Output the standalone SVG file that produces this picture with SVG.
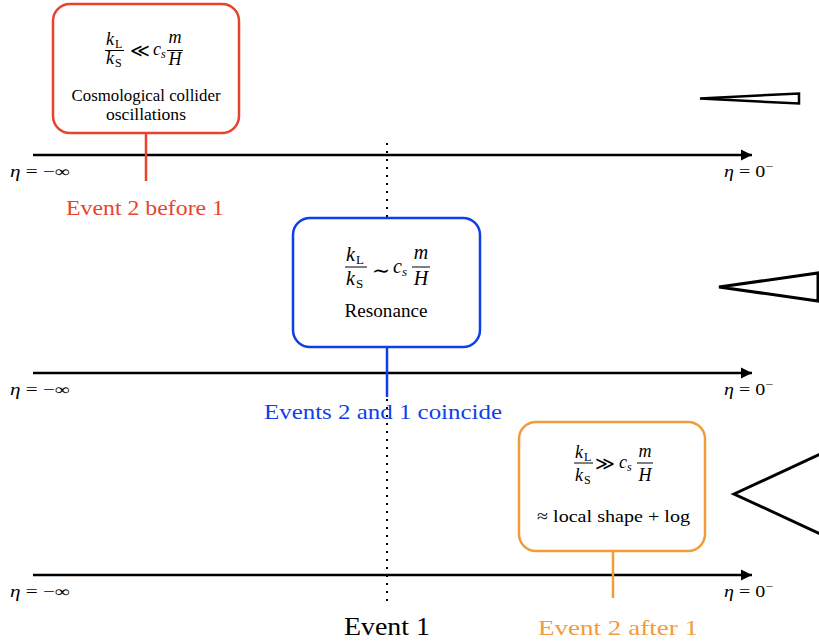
<svg xmlns="http://www.w3.org/2000/svg" width="819" height="641" viewBox="0 0 819 641">
<defs>
<style>
.bg{fill:#ffffff}
.box{fill:#ffffff;stroke-width:2.5}
.red{stroke:#E8432E}
.blue{stroke:#0F3FEA}
.orange{stroke:#F29B3B}
.mi{font-family:"Liberation Serif",serif;font-style:italic;fill:#000}
.rm{font-family:"Liberation Serif",serif;fill:#000}
.sym{font-family:"DejaVu Sans","Liberation Serif",sans-serif;font-weight:200;fill:#000}
.tilde{font-family:"DejaVu Serif","Liberation Serif",serif;fill:#000}
.bar{stroke:#000;stroke-width:1}
.axis{stroke:#000;stroke-width:2.5;fill:none}
.stem{stroke-width:2.5;fill:none}
.tri{fill:#ffffff;stroke:#000;stroke-linejoin:miter}
.eta{font-family:"Liberation Serif",serif;font-size:16px;fill:#000}
</style>
<marker id="arr" markerUnits="userSpaceOnUse" markerWidth="14" markerHeight="14" refX="12" refY="6" orient="auto">
<path d="M1,0.5 L12,6 L1,11.5 Z" fill="#000"/>
</marker>
</defs>
<rect class="bg" x="0" y="0" width="819" height="641"/>

<g id="connectors">
<line class="axis" x1="33" y1="155" x2="752" y2="155" marker-end="url(#arr)"/>
<line class="axis" x1="33" y1="373" x2="752" y2="373" marker-end="url(#arr)"/>
<line class="axis" x1="33" y1="575" x2="752" y2="575" marker-end="url(#arr)"/>
<line x1="387" y1="143" x2="387" y2="602" stroke="#000" stroke-width="2" stroke-dasharray="2 6"/>
<line class="stem red" x1="146" y1="133" x2="146" y2="181"/>
<line class="stem blue" x1="387" y1="347" x2="387" y2="397"/>
<line class="stem orange" x1="613" y1="551" x2="613" y2="598"/>
</g>

<g id="axis-labels">
<text class="eta" x="10" y="177" textLength="60" lengthAdjust="spacingAndGlyphs"><tspan font-style="italic">η</tspan> = −∞</text>
<text class="eta" x="10" y="395" textLength="60" lengthAdjust="spacingAndGlyphs"><tspan font-style="italic">η</tspan> = −∞</text>
<text class="eta" x="10" y="597" textLength="60" lengthAdjust="spacingAndGlyphs"><tspan font-style="italic">η</tspan> = −∞</text>
<text class="eta" x="724" y="177" textLength="49" lengthAdjust="spacingAndGlyphs"><tspan font-style="italic">η</tspan> = 0<tspan font-size="11" dy="-7">−</tspan></text>
<text class="eta" x="724" y="395" textLength="49" lengthAdjust="spacingAndGlyphs"><tspan font-style="italic">η</tspan> = 0<tspan font-size="11" dy="-7">−</tspan></text>
<text class="eta" x="724" y="597" textLength="49" lengthAdjust="spacingAndGlyphs"><tspan font-style="italic">η</tspan> = 0<tspan font-size="11" dy="-7">−</tspan></text>
</g>

<g id="node-before">
<rect class="box red" x="53" y="4" width="186" height="129" rx="17"/>
<text class="mi" x="106" y="45" font-size="18">k</text>
<text class="rm" x="115" y="48" font-size="12">L</text>
<line class="bar" x1="105" y1="50.5" x2="124" y2="50.5"/>
<text class="mi" x="106" y="64" font-size="18">k</text>
<text class="rm" x="115" y="67" font-size="12">S</text>
<text class="sym" x="140" y="57" font-size="19" text-anchor="middle">≪</text>
<text class="mi" x="153" y="55" font-size="18">c</text>
<text class="mi" x="161" y="58" font-size="12">s</text>
<text class="mi" x="175" y="43" font-size="18" text-anchor="middle">m</text>
<line class="bar" x1="167" y1="50.5" x2="183" y2="50.5"/>
<text class="mi" x="175" y="65" font-size="18" text-anchor="middle">H</text>
<text class="rm" x="146" y="101" font-size="17" text-anchor="middle" textLength="149" lengthAdjust="spacingAndGlyphs">Cosmological collider</text>
<text class="rm" x="146" y="120" font-size="17" text-anchor="middle" textLength="80" lengthAdjust="spacingAndGlyphs">oscillations</text>
<text class="rm" x="66" y="215" font-size="22" style="fill:#E8432E" textLength="158" lengthAdjust="spacingAndGlyphs">Event 2 before 1</text>
</g>

<g id="node-coincide">
<rect class="box blue" x="293" y="218" width="187" height="129" rx="17"/>
<text class="mi" x="346" y="261" font-size="20">k</text>
<text class="rm" x="356" y="264" font-size="13">L</text>
<line class="bar" x1="345" y1="267" x2="367" y2="267"/>
<text class="mi" x="346" y="285" font-size="20">k</text>
<text class="rm" x="356" y="288" font-size="13">S</text>
<text class="tilde" x="381" y="278" font-size="22" text-anchor="middle">∼</text>
<text class="mi" x="393" y="273" font-size="20">c</text>
<text class="mi" x="402" y="276" font-size="13">s</text>
<text class="mi" x="421" y="259" font-size="20" text-anchor="middle">m</text>
<line class="bar" x1="412" y1="267" x2="430" y2="267"/>
<text class="mi" x="421" y="285" font-size="20" text-anchor="middle">H</text>
<text class="rm" x="386" y="317" font-size="18" text-anchor="middle" textLength="83" lengthAdjust="spacingAndGlyphs">Resonance</text>
<text class="rm" x="264" y="419" font-size="22" style="fill:#0F3FEA" textLength="238" lengthAdjust="spacingAndGlyphs">Events 2 and 1 coincide</text>
</g>

<g id="node-after">
<rect class="box orange" x="519" y="422" width="186" height="129" rx="17"/>
<text class="mi" x="575" y="458" font-size="18">k</text>
<text class="rm" x="584" y="461" font-size="12">L</text>
<line class="bar" x1="574" y1="463" x2="593" y2="463"/>
<text class="mi" x="575" y="481" font-size="18">k</text>
<text class="rm" x="584" y="484" font-size="12">S</text>
<text class="sym" x="605" y="470" font-size="19" text-anchor="middle">≫</text>
<text class="mi" x="619" y="468" font-size="18">c</text>
<text class="mi" x="627" y="471" font-size="12">s</text>
<text class="mi" x="645" y="457" font-size="18" text-anchor="middle">m</text>
<line class="bar" x1="637" y1="463" x2="653" y2="463"/>
<text class="mi" x="645" y="481" font-size="18" text-anchor="middle">H</text>
<text class="rm" x="537" y="522" font-size="17.5" textLength="153" lengthAdjust="spacingAndGlyphs">≈ local shape + log</text>
<text class="rm" x="538" y="635" font-size="22" style="fill:#F29B3B" textLength="160" lengthAdjust="spacingAndGlyphs">Event 2 after 1</text>
</g>

<g id="node-event1">
<text class="rm" x="344" y="635" font-size="26" textLength="86" lengthAdjust="spacingAndGlyphs">Event 1</text>
</g>

<g id="shape-squeezed">
<polygon class="tri" points="700,98.5 799,93.5 799,103.5" stroke-width="2.5"/>
</g>
<g id="shape-mid">
<polygon class="tri" points="719,287 818,273 818,301" stroke-width="3"/>
</g>
<g id="shape-equilateral">
<polygon class="tri" points="734,494 840,445 840,543" stroke-width="3"/>
</g>
</svg>
